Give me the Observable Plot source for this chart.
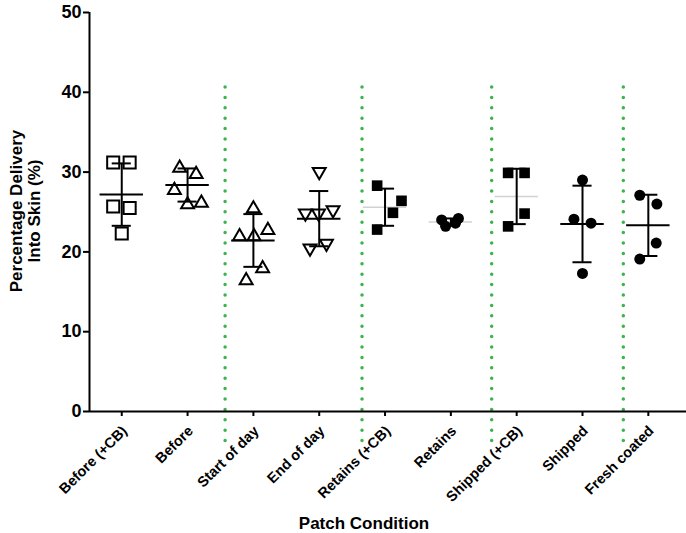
<!DOCTYPE html>
<html><head><meta charset="utf-8">
<script src="https://cdn.jsdelivr.net/npm/d3@7"></script>
<script src="https://cdn.jsdelivr.net/npm/@observablehq/plot@0.6"></script>
<style>
body{margin:0;background:#fff;}
#chart svg{font-family:"Liberation Sans",Arial,sans-serif;background:#fff;}
</style></head><body><div id="chart"></div>
<script>
const categories = ["Before (+CB)","Before","Start of day","End of day","Retains (+CB)","Retains","Shipped (+CB)","Shipped","Fresh coated"];
const yTicks = [0,10,20,30,40,50];
const dividers = [1.57,3.65,5.62,7.62];

const beforeCB = [31.2,31.2,25.7,25.5,22.3];
const beforeCBJitter = [-0.13,0.12,-0.13,0.12,0];
const before = [30.9,30.1,28.1,26.3,26.5];
const beforeJitter = [-0.12,0.13,-0.2,0,0.21];
const startOfDay = [25.8,23.1,22.3,22.3,18.3,16.8];
const startOfDayJitter = [0,0.22,-0.21,0.01,0.14,-0.11];
const endOfDay = [29.8,24.6,24.6,25.0,20.2,20.8];
const endOfDayJitter = [0,-0.21,-0.01,0.21,-0.14,0.11];
const retainsCB = [28.3,26.4,24.9,22.8];
const retainsCBJitter = [-0.12,0.25,0.12,-0.12];
const retains = [24.0,23.2,24.2,23.6];
const retainsJitter = [-0.14,-0.08,0.115,0.07];
const shippedCB = [29.9,29.9,24.8,23.2];
const shippedCBJitter = [-0.13,0.12,0.12,-0.13];
const shipped = [29.0,24.1,23.6,17.3];
const shippedJitter = [0,-0.13,0.13,0];
const freshCoated = [27.1,26.0,21.1,19.1];
const freshCoatedJitter = [-0.13,0.13,0.12,-0.13];

const groups = [
  {values: beforeCB, jitter: beforeCBJitter, symbol: "square", open: true, r: 6.8, rotate: 0, dy: 0, gray: false},
  {values: before, jitter: beforeJitter, symbol: "triangle", open: true, r: 4.8, rotate: 0, dy: 3, gray: false},
  {values: startOfDay, jitter: startOfDayJitter, symbol: "triangle", open: true, r: 4.8, rotate: 0, dy: 3, gray: false},
  {values: endOfDay, jitter: endOfDayJitter, symbol: "triangle", open: true, r: 4.8, rotate: 180, dy: -2, gray: false},
  {values: retainsCB, jitter: retainsCBJitter, symbol: "square", open: false, r: 6.0, rotate: 0, dy: 0, gray: true},
  {values: retains, jitter: retainsJitter, symbol: "circle", open: false, r: 5.5, rotate: 0, dy: 0, gray: true},
  {values: shippedCB, jitter: shippedCBJitter, symbol: "square", open: false, r: 6.0, rotate: 0, dy: 0, gray: true},
  {values: shipped, jitter: shippedJitter, symbol: "circle", open: false, r: 5.5, rotate: 0, dy: 0, gray: false},
  {values: freshCoated, jitter: freshCoatedJitter, symbol: "circle", open: false, r: 5.5, rotate: 0, dy: 0, gray: false}
];

const stats = groups.map((g, i) => {
  const m = d3.mean(g.values), s = d3.deviation(g.values);
  return {i, mean: m, lo: m - s, hi: m + s, gray: g.gray};
});

const meanHalf = 0.33, capHalf = 0.145;

const marks = [
  Plot.ruleX(dividers, {x: d => d, y1: 40.6, y2: -4.4, stroke: "#3cb44b", strokeWidth: 3.5, strokeDasharray: "0,10.4", strokeLinecap: "round"}),
  Plot.ruleY(stats, {y: "mean", x1: d => d.i - meanHalf, x2: d => d.i + meanHalf, stroke: d => d.gray ? "#d2d2d2" : "black", strokeWidth: d => d.gray ? 1.5 : 2}),
  Plot.ruleX(stats, {x: "i", y1: "lo", y2: "hi", stroke: "black", strokeWidth: 2}),
  Plot.ruleY(stats, {y: "lo", x1: d => d.i - capHalf, x2: d => d.i + capHalf, stroke: "black", strokeWidth: 2}),
  Plot.ruleY(stats, {y: "hi", x1: d => d.i - capHalf, x2: d => d.i + capHalf, stroke: "black", strokeWidth: 2}),
  Plot.ruleY([0], {x1: -0.49, x2: 8.58, stroke: "black", strokeWidth: 2}),
  Plot.ruleX([-0.49], {y1: 0, y2: 50, stroke: "black", strokeWidth: 2})
];

groups.forEach((g, i) => {
  const pts = g.values.map((v, k) => ({x: i + g.jitter[k], y: v}));
  marks.push(Plot.dot(pts, {
    x: "x", y: "y", symbol: g.symbol, r: g.r, rotate: g.rotate, dy: g.dy,
    fill: g.open ? "none" : "black",
    stroke: g.open ? "black" : "none",
    strokeWidth: g.open ? 2 : 0
  }));
});

const chart = Plot.plot({
  width: 686, height: 533,
  marginLeft: 89, marginRight: 0, marginTop: 12, marginBottom: 122,
  x: {domain: [-0.49, 8.58], ticks: d3.range(categories.length), tickFormat: i => categories[i], tickRotate: -45, tickSize: 5, tickPadding: 3, label: null},
  y: {domain: [0, 50], ticks: yTicks, tickSize: 6, tickPadding: 2, label: null},
  style: {fontFamily: "'Liberation Sans', Arial, sans-serif", fontSize: "14.5px", fontWeight: "bold", color: "black", background: "white"},
  marks
});

document.getElementById("chart").appendChild(chart);

const svg = d3.select(chart);
svg.selectAll("g[aria-label^='y-axis'] text").attr("font-size", 18).style("font-size", "18px");
svg.selectAll("g[aria-label^='x-axis'] text").each(function() {
  const t = d3.select(this);
  const tr = t.attr("transform") || "";
  t.attr("transform", "translate(3,9) " + tr);
});
svg.selectAll("g[aria-label^='x-axis'] line, g[aria-label^='y-axis'] line, g[aria-label^='x-axis'] path, g[aria-label^='y-axis'] path").attr("stroke-width", 2);

svg.append("text")
  .attr("transform", "translate(22,211) rotate(-90)")
  .attr("text-anchor", "middle")
  .attr("font-size", 17).attr("font-weight", "bold").attr("fill", "black")
  .text("Percentage Delivery");
svg.append("text")
  .attr("transform", "translate(39.5,211) rotate(-90)")
  .attr("text-anchor", "middle")
  .attr("font-size", 17).attr("font-weight", "bold").attr("fill", "black")
  .text("Into Skin (%)");
svg.append("text")
  .attr("x", 364).attr("y", 529)
  .attr("text-anchor", "middle")
  .attr("font-size", 17).attr("font-weight", "bold").attr("fill", "black")
  .text("Patch Condition");
</script></body></html>
